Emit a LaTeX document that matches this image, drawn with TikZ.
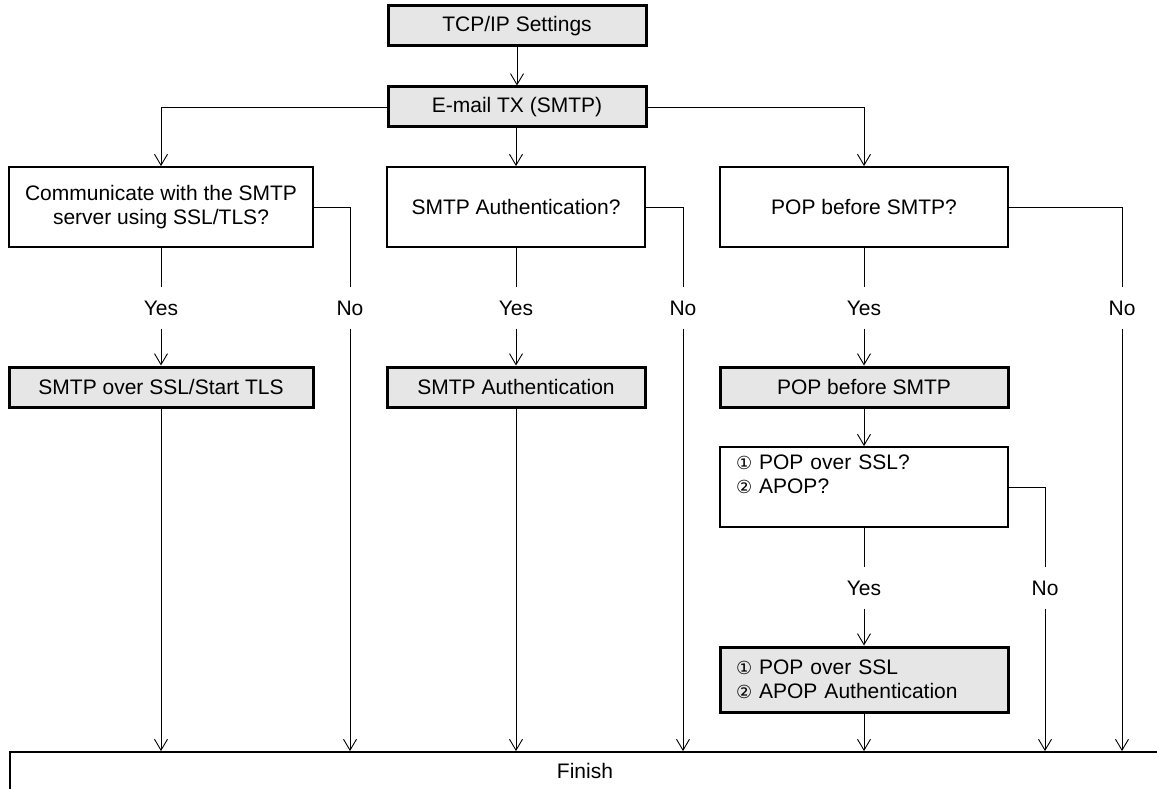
\documentclass[tikz,border=0pt]{standalone}
\usepackage{fontspec}
\setmainfont{Liberation Sans}
\newfontfamily\circfont{DejaVu Sans}
\usetikzlibrary{arrows.meta}
\definecolor{boxgrey}{HTML}{E6E6E6}
\newcommand{\cnum}[1]{{\circfont\fontsize{18}{24}\selectfont #1}}
\begin{document}
\begin{tikzpicture}[x=1pt,y=-1pt,
  every node/.style={font=\fontsize{21}{24}\selectfont, inner sep=0pt},
  qbox/.style={draw, line width=1.8pt, rectangle, align=center},
  gbox/.style={draw, line width=3pt, fill=boxgrey, rectangle, align=center},
  lbl/.style={minimum height=41pt, minimum width=10pt},
  conn/.style={line width=0.9pt},
  arr/.style={conn, -{Straight Barb[length=11pt,width=13pt,line width=0.9pt]}}
]
\useasboundingbox (0,0) rectangle (1157,789);

% top
\node[gbox, minimum width=258pt, minimum height=40pt] (tcp) at (517,26) {TCP/IP Settings};
\node[gbox, minimum width=258pt, minimum height=40pt] (mail) at (517,107) {E-mail TX (SMTP)};

% questions
\node[qbox, minimum width=304pt, minimum height=80pt] (q1) at (161,207)
  {Communicate with the SMTP\\server using SSL/TLS?};
\node[qbox, minimum width=258pt, minimum height=80pt] (q2) at (516,207) {SMTP Authentication?};
\node[qbox, minimum width=288pt, minimum height=80pt] (q3) at (864,207) {POP before SMTP?};

% labels row 1
\node[lbl] (y1) at (161,308) {Yes};
\node[lbl] (n1) at (350,308) {No};
\node[lbl] (y2) at (516,308) {Yes};
\node[lbl] (n2) at (683,308) {No};
\node[lbl] (y3) at (864,308) {Yes};
\node[lbl] (n3) at (1122,308) {No};

% grey results
\node[gbox, minimum width=304pt, minimum height=40pt] (r1) at (161,387) {SMTP over SSL/Start TLS};
\node[gbox, minimum width=258pt, minimum height=40pt] (r2) at (516,387) {SMTP Authentication};
\node[gbox, minimum width=288pt, minimum height=40pt] (r3) at (864,387) {POP before SMTP};

% second question
\node[qbox, minimum width=288pt, minimum height=80pt, text width=256pt, align=left] (q4) at (864,487)
  {\cnum{①} POP over SSL?\\\cnum{②} APOP?\\[-6pt]\strut};
\node[lbl] (y4) at (864,588) {Yes};
\node[lbl] (n4) at (1045,588) {No};
\node[gbox, minimum width=288pt, minimum height=65pt, text width=256pt, align=left] (r4) at (864,679.5)
  {\cnum{①} POP over SSL\\\cnum{②} APOP Authentication};

% finish
\node[draw, line width=1.8pt, rectangle, minimum width=1150pt, minimum height=38pt] (fin) at (585,771) {Finish};

% connectors
\draw[arr] (tcp) -- (mail);
\draw[arr] (mail.west) -| (q1.north);
\draw[arr] (mail.south -| q2.north) -- (q2.north);
\draw[arr] (mail.east) -| (q3.north);

\draw[conn] (q1.south) -- (y1.north);
\draw[arr] (y1.south) -- (r1.north);
\draw[conn] (q1.east) -| (n1.north);
\draw[arr] (n1.south) -- (n1.south |- fin.north);
\draw[arr] (r1.south) -- (r1.south |- fin.north);

\draw[conn] (q2.south) -- (y2.north);
\draw[arr] (y2.south) -- (r2.north);
\draw[conn] (q2.east) -| (n2.north);
\draw[arr] (n2.south) -- (n2.south |- fin.north);
\draw[arr] (r2.south) -- (r2.south |- fin.north);

\draw[conn] (q3.south) -- (y3.north);
\draw[arr] (y3.south) -- (r3.north);
\draw[conn] (q3.east) -| (n3.north);
\draw[arr] (n3.south) -- (n3.south |- fin.north);
\draw[arr] (r3.south) -- (q4.north);

\draw[conn] (q4.south) -- (y4.north);
\draw[arr] (y4.south) -- (r4.north);
\draw[conn] (q4.east) -| (n4.north);
\draw[arr] (n4.south) -- (n4.south |- fin.north);
\draw[arr] (r4.south) -- (r4.south |- fin.north);
\end{tikzpicture}
\end{document}
